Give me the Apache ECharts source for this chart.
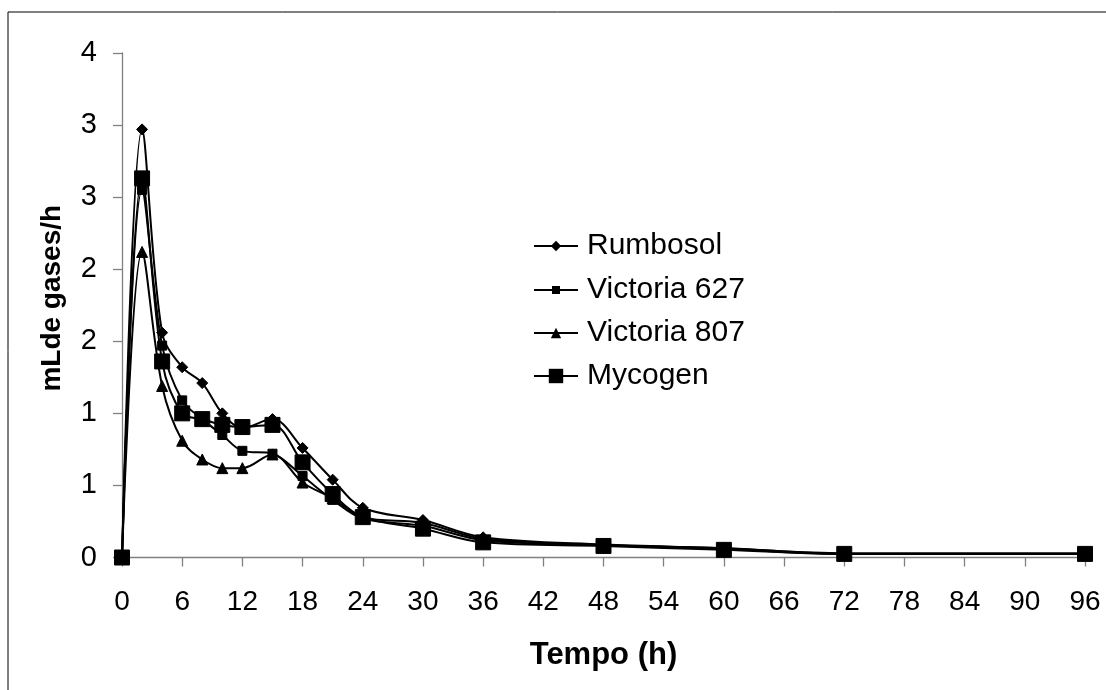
<!DOCTYPE html>
<html>
<head>
<meta charset="utf-8">
<script src="https://cdn.jsdelivr.net/npm/echarts@6/dist/echarts.min.js"></script>
<style>
html,body{margin:0;padding:0;background:#fff;}
#chart{width:1106px;height:690px;}
</style>
</head>
<body>
<div id="chart"></div>
<script>
// ---- data ----
const hours = [0, 2, 4, 6, 8, 10, 12, 15, 18, 21, 24, 30, 36, 48, 60, 72, 96];
const rumbosol   = [0, 2.97, 1.56, 1.32, 1.21, 1.00, 0.90, 0.96, 0.76, 0.54, 0.345, 0.26, 0.14, 0.09, 0.065, 0.03, 0.03];
const victoria627 = [0, 2.55, 1.47, 1.09, 0.96, 0.85, 0.74, 0.72, 0.565, 0.40, 0.27, 0.22, 0.12, 0.085, 0.06, 0.025, 0.025];
const victoria807 = [0, 2.12, 1.19, 0.81, 0.68, 0.62, 0.62, 0.715, 0.52, 0.41, 0.28, 0.24, 0.13, 0.085, 0.065, 0.025, 0.025];
const mycogen    = [0, 2.63, 1.36, 1.00, 0.96, 0.92, 0.905, 0.92, 0.66, 0.44, 0.28, 0.20, 0.105, 0.08, 0.053, 0.025, 0.025];
const seriesNames = ['Rumbosol', 'Victoria 627', 'Victoria 807', 'Mycogen'];
const yTickLabels = ['0', '1', '1', '2', '2', '3', '3', '4'];
const xTitle = 'Tempo (h)';
const yTitle = 'mLde gases/h';

const FONT = 'Liberation Sans, Arial, sans-serif';
const chart = echarts.init(document.getElementById('chart'), null, {renderer: 'canvas'});

function pairs(vals) { return hours.map((h, i) => [h, vals[i]]); }

const styles = [
  {symbol: 'diamond', size: 11, legendH: 13},
  {symbol: 'rect', size: 9, legendH: 10},
  {symbol: 'triangle', size: 11, legendH: 13},
  {symbol: 'rect', size: 15, legendH: 18}
];
const allVals = [rumbosol, victoria627, victoria807, mycogen];
const legendTops = [231, 275, 318, 361];

const option = {
  animation: false,
  backgroundColor: '#fff',
  grid: {left: 122, right: 21, top: 53, bottom: 132.5, containLabel: false},
  graphic: [{
    type: 'rect', shape: {x: 8, y: 12, width: 1110, height: 700},
    style: {fill: 'none', stroke: '#000', lineWidth: 1}, silent: true, z: -1
  }],
  legend: seriesNames.map((n, i) => ({
    data: [n], orient: 'vertical', left: 533, top: legendTops[i], padding: 0,
    itemWidth: 44, itemHeight: styles[i].legendH, itemGap: 10,
    textStyle: {fontFamily: FONT, fontSize: 30, color: '#000', padding: [0, 0, 0, 4]},
    selectedMode: false
  })),
  xAxis: {
    type: 'value', min: 0, max: 96, interval: 6,
    name: xTitle, nameLocation: 'middle', nameGap: 82,
    nameTextStyle: {fontFamily: FONT, fontSize: 31, fontWeight: 'bold', color: '#000'},
    axisLine: {show: true, onZero: false, lineStyle: {color: '#808080', width: 1.3}},
    axisTick: {show: true, length: 9, inside: false, lineStyle: {color: '#808080', width: 1.3}},
    axisLabel: {fontFamily: FONT, fontSize: 28, color: '#000', margin: 31},
    splitLine: {show: false}
  },
  yAxis: {
    type: 'value', min: 0, max: 3.5, interval: 0.5,
    name: yTitle, nameLocation: 'middle', nameGap: 56, nameRotate: 90,
    nameTextStyle: {fontFamily: FONT, fontSize: 28, fontWeight: 'bold', color: '#000', padding: [0, 0, 0, 14]},
    axisLine: {show: true, lineStyle: {color: '#808080', width: 1.3}},
    axisTick: {show: true, length: 9, inside: false, lineStyle: {color: '#808080', width: 1.3}},
    axisLabel: {fontFamily: FONT, fontSize: 29, color: '#000', margin: 25,
      formatter: v => yTickLabels[Math.round(v / 0.5)]},
    splitLine: {show: false}
  },
  series: seriesNames.map((n, i) => ({
    name: n, type: 'line', smooth: 0.35,
    data: pairs(allVals[i]),
    symbol: styles[i].symbol, symbolSize: styles[i].size,
    showAllSymbol: true,
    lineStyle: {color: '#000', width: 2},
    itemStyle: {color: '#000', borderColor: '#000'},
    z: 2 + i
  }))
};
chart.setOption(option);
</script>
</body>
</html>
